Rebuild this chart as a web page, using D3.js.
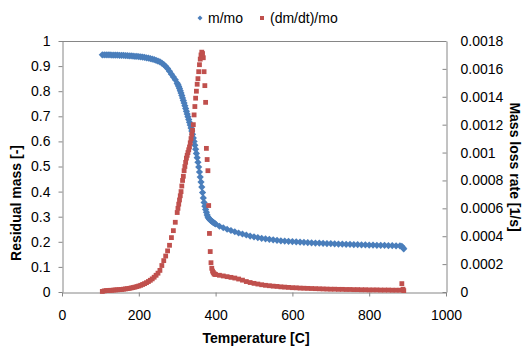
<!DOCTYPE html>
<html>
<head>
<meta charset="utf-8">
<script src="https://cdn.jsdelivr.net/npm/d3@7"></script>
<style>
  body { margin: 0; background: #fff; }
  svg { font-family: "Liberation Sans", Arial, sans-serif; }
</style>
</head>
<body>
<svg width="524" height="347"></svg>
<script>
// temperature [C] of each sample
let temps = [
  105,110,115,120,125,130,135,140,145,150,155,160,165,170,175,180,185,190,195,200,
  205,210,215,220,225,230,235,240,245,250,255,260,265,270,275,280,285,290,295,
  300,302,304,306,308,310,312,314,316,318,320,322,324,326,328,330,332,334,336,338,
  340,342,344,346,348,350,352,354,356,358,360,362,364,366,368,370,372,374,376,378,
  380,382,384,386,388,390,392,394,396,398,
  400,410,420,430,440,450,460,470,480,490,500,510,520,530,540,550,560,570,580,590,
  600,610,620,630,640,650,660,670,680,690,700,710,720,730,740,750,760,770,780,790,
  800,810,820,830,840,850,860,870,880,885,888,890
];

// m/mo (left axis)
let massRatio = [
  0.945,0.945,0.945,0.945,0.945,0.944,0.944,0.944,0.944,0.943,0.943,0.943,0.942,0.942,0.941,0.941,0.940,0.939,0.939,0.938,
  0.937,0.936,0.935,0.933,0.932,0.930,0.928,0.926,0.923,0.920,0.917,0.912,0.906,0.899,0.890,0.879,0.868,0.857,0.846,
  0.832,0.826,0.819,0.811,0.802,0.793,0.783,0.773,0.763,0.753,0.742,0.731,0.720,0.709,0.698,0.687,0.676,0.665,0.653,0.641,
  0.628,0.614,0.600,0.585,0.569,0.552,0.535,0.517,0.498,0.478,0.458,0.438,0.418,0.396,0.375,0.357,0.342,0.329,0.318,0.307,
  0.299,0.294,0.290,0.287,0.284,0.282,0.279,0.277,0.275,0.273,
  0.271,0.262,0.256,0.250,0.245,0.240,0.235,0.231,0.227,0.223,0.220,0.217,0.214,0.212,0.210,0.208,0.206,0.204,0.203,0.202,
  0.201,0.200,0.199,0.198,0.197,0.196,0.195,0.195,0.194,0.193,0.193,0.192,0.191,0.191,0.190,0.190,0.189,0.189,0.188,0.188,
  0.187,0.187,0.186,0.186,0.186,0.185,0.185,0.184,0.184,0.182,0.176,0.172
];

// (dm/dt)/mo (right axis)
let lossRate = [
  0.000004,0.000008,0.00001,0.00001,0.000012,0.000012,0.000014,0.000015,0.000016,0.000017,0.000018,0.00002,0.000022,0.000024,0.000026,0.000029,0.000032,0.000035,0.000039,0.000043,
  0.000048,0.000054,0.00006,0.000067,0.000075,0.000084,0.000094,0.000106,0.00012,0.000135,0.000155,0.00019,0.000225,0.000258,0.000295,0.000335,0.00039,0.00044,0.0005,
  0.00057,0.0006,0.00063,0.00066,0.00069,0.00072,0.00076,0.0008,0.00083,0.00087,0.0009,0.00093,0.00096,0.00098,0.001,0.00102,0.00104,0.00107,0.0011,0.00113,
  0.00116,0.0012,0.00127,0.00133,0.00139,0.00144,0.00149,0.00153,0.00158,0.00163,0.00167,0.0017,0.00172,0.00171,0.00168,0.00158,0.00148,0.00136,0.00103,0.00095,
  0.00087,0.00062,0.00042,0.00029,0.00021,0.00017,0.00015,0.00014,0.00013,0.000128,
  0.000125,0.00012,0.000115,0.00011,0.000105,0.0001,0.000093,0.000085,0.000075,0.000068,0.000062,0.000057,0.000052,0.000048,0.000045,0.000042,0.00004,0.000037,0.000035,0.000033,
  0.000031,0.00003,0.000028,0.000027,0.000026,0.000025,0.000024,0.000023,0.000022,0.000021,0.00002,0.00002,0.000019,0.000019,0.000018,0.000018,0.000017,0.000017,0.000016,0.000016,
  0.000015,0.000015,0.000015,0.000014,0.000014,0.000014,0.000013,0.000013,0.000013,0.00006,0.00002,0.00001
];

let xTicks = [0, 200, 400, 600, 800, 1000];
let leftTicks = [0, 0.1, 0.2, 0.3, 0.4, 0.5, 0.6, 0.7, 0.8, 0.9, 1];
let rightTicks = [0, 0.0002, 0.0004, 0.0006, 0.0008, 0.001, 0.0012, 0.0014, 0.0016, 0.0018];

let plot = {left: 62, right: 446, top: 41, bottom: 292};
let axisColor = "#868686";
let blue = "#4a7ebb", red = "#c0504d";

let svg = d3.select("svg");

let scaleX = d3.scaleLinear().domain([0, 1000]).range([plot.left, plot.right]);
let scaleY = d3.scaleLinear().domain([0, 1]).range([plot.bottom, plot.top]);
let scaleY2 = d3.scaleLinear().domain([0, 0.0018]).range([plot.bottom, plot.top]);

function styleAxis(g) {
  g.selectAll("path").attr("stroke", axisColor);
  g.selectAll("line").attr("stroke", axisColor);
  g.selectAll("text").attr("fill", "#000").style("font-size", "14px")
    .style("font-family", "'Liberation Sans', Arial, sans-serif");
}

// top border of plot area
svg.append("line")
  .attr("x1", plot.left).attr("x2", plot.right)
  .attr("y1", plot.top + 0.5).attr("y2", plot.top + 0.5)
  .attr("stroke", axisColor);

svg.append("g")
  .attr("transform", `translate(0,${plot.bottom + 0.5})`)
  .call(d3.axisBottom(scaleX).tickValues(xTicks).tickFormat(d3.format("d"))
    .tickSizeInner(4).tickSizeOuter(0).tickPadding(14))
  .call(styleAxis);

svg.append("g")
  .attr("transform", `translate(${plot.left + 0.5},0)`)
  .call(d3.axisLeft(scaleY).tickValues(leftTicks).tickFormat(d3.format(".1~f"))
    .tickSizeInner(4).tickSizeOuter(0).tickPadding(8))
  .call(styleAxis);

svg.append("g")
  .attr("transform", `translate(${plot.right + 0.5},0)`)
  .call(d3.axisRight(scaleY2).tickValues(rightTicks).tickFormat(d3.format(".4~f"))
    .tickSizeInner(-4).tickSizeOuter(0).tickPadding(14))
  .call(styleAxis);

// blue diamonds
let dia = 3.6;
svg.append("g").selectAll("path")
  .data(temps.map((t, i) => [t, massRatio[i]]))
  .enter().append("path")
    .attr("d", `M0,${-dia}L${dia},0L0,${dia}L${-dia},0Z`)
    .attr("transform", d => `translate(${scaleX(d[0])},${scaleY(d[1])})`)
    .attr("fill", blue);

// red squares
let sq = 4.8;
svg.append("g").selectAll("rect")
  .data(temps.map((t, i) => [t, lossRate[i]]))
  .enter().append("rect")
    .attr("x", d => scaleX(d[0]) - sq / 2)
    .attr("y", d => scaleY2(d[1]) - sq / 2)
    .attr("width", sq).attr("height", sq)
    .attr("fill", red);

// axis titles
svg.append("text")
  .attr("x", 256).attr("y", 343)
  .attr("text-anchor", "middle")
  .style("font-size", "14px").style("font-weight", "bold")
  .text("Temperature [C]");

svg.append("text")
  .attr("transform", "translate(21,203) rotate(-90)")
  .attr("text-anchor", "middle")
  .style("font-size", "14px").style("font-weight", "bold")
  .text("Residual mass [-]");

svg.append("text")
  .attr("transform", "translate(510,167) rotate(90)")
  .attr("text-anchor", "middle")
  .style("font-size", "14px").style("font-weight", "bold")
  .text("Mass loss rate [1/s]");

// legend
let legend = svg.append("g").style("font-size", "14px");
legend.append("path")
  .attr("d", "M0,-2.5L2.5,0L0,2.5L-2.5,0Z")
  .attr("transform", "translate(200,18)")
  .attr("fill", blue);
legend.append("text").attr("x", 208).attr("y", 23).text("m/mo");
legend.append("rect")
  .attr("x", 260).attr("y", 16).attr("width", 4).attr("height", 4)
  .attr("fill", red);
legend.append("text").attr("x", 270).attr("y", 23).text("(dm/dt)/mo");
</script>
</body>
</html>
